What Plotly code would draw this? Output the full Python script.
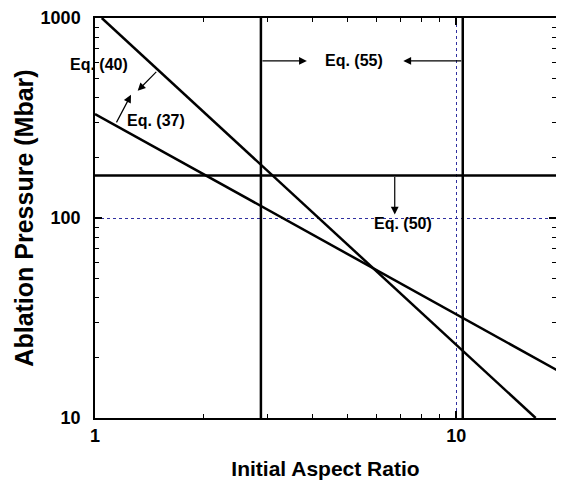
import math
import plotly.graph_objects as go

# ---- data ----
eq40_x = [1.044, 16.6]
eq40_y = [1000, 10]
eq37_x = [1.0, 20.0]
eq37_y = [331, 16.5]
eq55_left_x = 2.88
eq55_right_x = 10.43
eq50_y = 163
x_range = [1, 18.9]
y_range = [10, 1000]
x_ticks = [1, 10]
y_ticks = [10, 100, 1000]
x_minor = [2, 3, 4, 5, 6, 7, 8, 9]
y_minor = [20, 30, 40, 50, 60, 70, 80, 90, 200, 300, 400, 500, 600, 700, 800, 900]

# annotations: (text, x, y)
labels = [
    ("Eq. (40)", 1.026, 585),
    ("Eq. (37)", 1.476, 308),
    ("Eq. (55)", 5.22, 610),
    ("Eq. (50)", 7.14, 94),
]
# arrows: (head_x, head_y, tail_x, tail_y)
arrows = [
    (1.313, 433, 1.492, 547),
    (1.258, 413, 1.141, 295.5),
    (3.86, 610, 2.88, 610),
    (7.14, 610, 10.43, 610),
    (6.76, 104, 6.76, 163),
]

FONT = "Liberation Sans, Arial, sans-serif"
L = math.log10

fig = go.Figure()
line_style = dict(color="black", width=2.5)
fig.add_trace(go.Scatter(x=eq40_x, y=eq40_y, mode="lines", line=line_style, hoverinfo="skip"))
fig.add_trace(go.Scatter(x=eq37_x, y=eq37_y, mode="lines", line=line_style, hoverinfo="skip"))
fig.add_trace(go.Scatter(x=[eq55_left_x, eq55_left_x], y=y_range, mode="lines", line=line_style, hoverinfo="skip"))
fig.add_trace(go.Scatter(x=[eq55_right_x, eq55_right_x], y=y_range, mode="lines", line=line_style, hoverinfo="skip"))
fig.add_trace(go.Scatter(x=[1, 20], y=[eq50_y, eq50_y], mode="lines", line=line_style, hoverinfo="skip"))

annots = []
for t, x, y in labels:
    annots.append(dict(x=L(x), y=L(y), xref="x", yref="y", text=t, showarrow=False,
                       font=dict(family=FONT, size=16, color="black", weight="bold")))
for hx, hy, tx, ty in arrows:
    annots.append(dict(x=L(hx), y=L(hy), ax=L(tx), ay=L(ty), xref="x", yref="y",
                       axref="x", ayref="y", text="", showarrow=True,
                       arrowhead=2, arrowsize=1.3, arrowwidth=1.2, arrowcolor="black",
                       standoff=0, startstandoff=0))

axis_common = dict(
    type="log", showline=True, linecolor="black", linewidth=1.5, mirror="allticks",
    ticks="inside", ticklen=7, tickwidth=1.5, tickcolor="black",
    showgrid=True, gridcolor="#3030a0", griddash="dot", gridwidth=1,
    zeroline=False, automargin=False, ticklabeloverflow="allow",
    tickfont=dict(family=FONT, size=18, color="black", weight="bold"),
)

fig.update_layout(
    width=548, height=472,
    margin=dict(l=87, r=0, t=10, b=62),
    paper_bgcolor="white", plot_bgcolor="white",
    showlegend=False,
    annotations=annots,
    xaxis=dict(axis_common, range=[L(x_range[0]), L(x_range[1])], tickvals=x_ticks,
               ticktext=[str(v) for v in x_ticks], ticklabelstandoff=1,
               minor=dict(tickvals=x_minor, ticks="inside", ticklen=4, tickwidth=1,
                          tickcolor="black", showgrid=False),
               title=dict(text="Initial Aspect Ratio", standoff=17,
                          font=dict(family=FONT, size=21, color="black", weight="bold"))),
    yaxis=dict(axis_common, range=[L(y_range[0]), L(y_range[1])], tickvals=y_ticks,
               ticktext=[str(v) for v in y_ticks], ticklabelstandoff=9,
               minor=dict(tickvals=y_minor, ticks="inside", ticklen=4, tickwidth=1,
                          tickcolor="black", showgrid=False),
               title=dict(text="Ablation Pressure (Mbar)", standoff=0,
                          font=dict(family=FONT, size=25, color="black", weight="bold"))),
)

fig.write_html("out.html")
